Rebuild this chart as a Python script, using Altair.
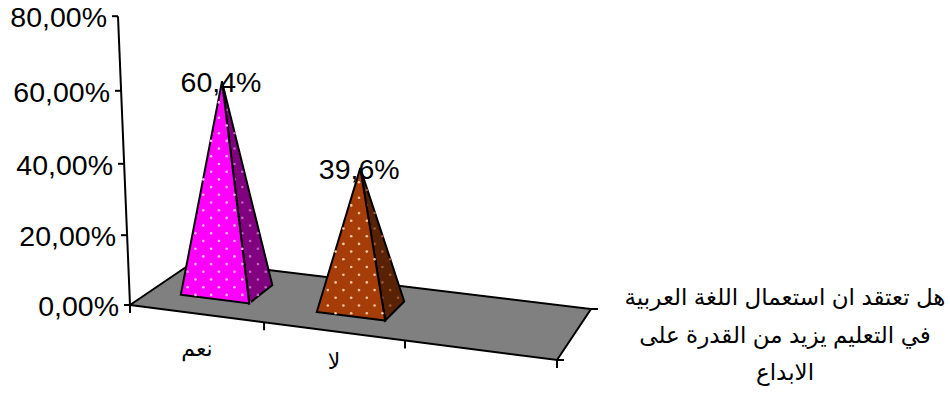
import altair as alt
import pandas as pd

# Survey results
categories = ["نعم", "لا"]
values = [60.4, 39.6]
axis_ticks = [0, 20, 40, 60, 80]
floor_tick_stops = [0, 0.314, 0.644, 1]
question_lines = [
    "هل تعتقد ان استعمال اللغة العربية",
    "في التعليم يزيد من القدرة على",
    "الابداع",
]

WIDTH, HEIGHT = 950, 394
FONT = "Liberation Sans, Arial, DejaVu Sans"

# Oblique 3D view: floor corners on screen
FL, FR, BL, BR = (130, 305), (557, 360), (195, 261), (591, 309)


def floor(u, w):
    """Bilinear position on the floor: u runs along the categories, w into the depth."""
    return tuple(
        (1 - u) * (1 - w) * FL[i] + u * (1 - w) * FR[i] + (1 - u) * w * BL[i] + u * w * BR[i]
        for i in (0, 1)
    )


def raised(u, w, v):
    """Point at height v (percent) above floor position (u, w)."""
    x, y = floor(u, w)
    return x + v * (-0.115 + 0.2 * u), y - v * (3.43 + 0.15 * u)


def axis_point(v):
    return FL[0] - 0.15 * v, FL[1] - (3.45 * v + 0.002 * v * v)


X = alt.X("x:Q", scale=alt.Scale(domain=[0, WIDTH], range=[0, WIDTH]), axis=None)
Y = alt.Y("y:Q", scale=alt.Scale(domain=[0, HEIGHT], range=[0, HEIGHT]), axis=None)


def polygon(points, fill):
    df = pd.DataFrame(points, columns=["x", "y"]).assign(i=range(len(points)))
    return alt.Chart(df).mark_line(
        interpolate="linear-closed", fill=fill, stroke="black", strokeWidth=2, clip=False
    ).encode(x=X, y=Y, order="i:Q")


def inside(p, poly):
    hit = False
    for (x1, y1), (x2, y2) in zip(poly, poly[1:] + poly[:1]):
        if (y1 > p[1]) != (y2 > p[1]) and p[0] < x1 + (p[1] - y1) * (x2 - x1) / (y2 - y1):
            hit = not hit
    return hit


def pattern(poly, anchor, color):
    """Staggered dot fill of a face."""
    stepx, stepy = 15.6, 7.7
    pts = []
    for r in range(-60, 60):
        y = anchor[1] + r * stepy
        for c in range(-60, 60):
            x = anchor[0] + c * stepx + (stepx / 2 if r % 2 else 0)
            if inside((x, y), poly):
                pts.append((x, y))
    df = pd.DataFrame(pts, columns=["x", "y"])
    return alt.Chart(df).mark_circle(size=7, color=color, opacity=1).encode(x=X, y=Y)


def segments(rows, width=2):
    df = pd.DataFrame(rows, columns=["x", "y", "x2", "y2"])
    return alt.Chart(df).mark_rule(color="black", strokeWidth=width).encode(
        x=X, y=Y, x2="x2:Q", y2="y2:Q"
    )


def text(rows, size, align="center", font=FONT):
    df = pd.DataFrame(rows, columns=["x", "y", "label"])
    return alt.Chart(df).mark_text(
        fontSize=size, align=align, baseline="middle", font=font, color="black"
    ).encode(x=X, y=Y, text="label:N")


layers = [polygon([FL, FR, BR, BL], "#808080")]

# Floor ticks and corner stubs
floor_ticks = []
for stop in floor_tick_stops:
    x, y = floor(stop, 0)
    floor_ticks.append((x, y, x, y + 8))
floor_ticks += [(FR[0], FR[1], FR[0] + 7, FR[1]), (BR[0], BR[1], BR[0] + 7, BR[1])]
layers.append(segments(floor_ticks))

# Value axis
top = axis_point(axis_ticks[-1])
axis_rows = [(FL[0], FL[1], top[0], top[1])]
axis_rows += [(axis_point(v)[0], axis_point(v)[1], axis_point(v)[0] - 6, axis_point(v)[1]) for v in axis_ticks]
layers.append(segments(axis_rows))
layers.append(
    text(
        [(axis_point(v)[0] - 11, axis_point(v)[1] + 2, f"{v},00%") for v in axis_ticks],
        28.5,
        align="right",
    )
)

# Pyramids
FACE_COLORS = [("#FF00FF", "#800080"), ("#A63C08", "#5A2204")]
DOT_COLORS = [("#FFB8FF", "#C060C0"), ("#F0C8A0", "#9A5A30")]
DOT_PHASE = [(203.3, 241.0), (359.0, 182.3)]
labels = []
for i, v in enumerate(values):
    cu = 0.154 + i * 0.326
    half = 0.082
    w0, w1 = 0.32, 0.72
    apex = raised(cu, (w0 + w1) / 2, v)
    front = [floor(cu - half, w0), floor(cu + half, w0), apex]
    side = [floor(cu + half, w0), floor(cu + half, w1), apex]
    layers.append(polygon(side, FACE_COLORS[i][1]))
    layers.append(pattern(side, DOT_PHASE[i], DOT_COLORS[i][1]))
    layers.append(polygon(front, FACE_COLORS[i][0]))
    layers.append(pattern(front, DOT_PHASE[i], DOT_COLORS[i][0]))
    labels.append((apex[0] - 1, apex[1] + 2, f"{v:.1f}".replace(".", ",") + "%"))
layers.append(text(labels, 28.5))

# Category names below the floor
cat_rows = [(197, 349, categories[0]), (334, 362, categories[1])]
layers.append(text(cat_rows, 22, font="Liberation Sans, DejaVu Sans"))

# Axis title to the right of the floor
title_rows = [(785, 298 + 37.5 * n, line) for n, line in enumerate(question_lines)]
layers.append(text(title_rows, 23, font="Liberation Sans, DejaVu Sans"))

chart = (
    alt.layer(*layers)
    .properties(
        width=WIDTH,
        height=HEIGHT,
        padding=0,
        autosize=alt.AutoSizeParams(type="none"),
        background="white",
    )
    .configure_view(stroke=None)
)

chart.save("out.html", embed_options={"renderer": "svg", "actions": False})
